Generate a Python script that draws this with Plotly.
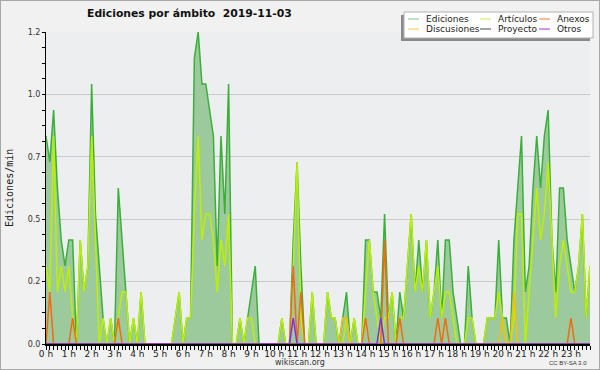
import plotly.graph_objects as go

# ---------------- data (10-minute slots, edits per minute) ----------------
slot_hours = [i / 6 for i in range(144)]          # 00:00 ... 23:50

ediciones = [
    0.8, 0.7, 0.9, 0.6, 0.4, 0.3, 0.4, 0.4, 0.0, 0.4, 0.2, 0.3,
    1.0, 0.5, 0.3, 0.1, 0.0, 0.1, 0.0, 0.6, 0.4, 0.2, 0.0, 0.1,
    0.0, 0.2, 0.0, 0.0, 0.0, 0.0, 0.0, 0.0, 0.0, 0.0, 0.1, 0.2,
    0.0, 0.1, 0.1, 1.1, 1.2, 1.0, 1.0, 0.9, 0.8, 0.3, 0.8, 0.5,
    1.0, 0.0, 0.0, 0.1, 0.0, 0.1, 0.2, 0.3, 0.0, 0.0, 0.0, 0.0,
    0.0, 0.0, 0.1, 0.0, 0.0, 0.4, 0.7, 0.3, 0.0, 0.0, 0.2, 0.0,
    0.0, 0.0, 0.2, 0.1, 0.1, 0.0, 0.1, 0.2, 0.0, 0.1, 0.0, 0.0,
    0.4, 0.4, 0.2, 0.2, 0.1, 0.5, 0.1, 0.2, 0.0, 0.2, 0.1, 0.3,
    0.5, 0.2, 0.4, 0.2, 0.4, 0.1, 0.2, 0.4, 0.1, 0.4, 0.4, 0.2,
    0.1, 0.0, 0.0, 0.3, 0.1, 0.0, 0.0, 0.0, 0.1, 0.1, 0.1, 0.4,
    0.1, 0.1, 0.0, 0.4, 0.6, 0.8, 0.2, 0.3, 0.6, 0.8, 0.6, 0.8,
    0.9, 0.4, 0.2, 0.6, 0.6, 0.4, 0.3, 0.2, 0.3, 0.5, 0.1, 0.3,
]

articulos = [
    0.3, 0.2, 0.8, 0.2, 0.3, 0.2, 0.3, 0.1, 0.0, 0.4, 0.2, 0.3,
    0.8, 0.4, 0.0, 0.1, 0.0, 0.1, 0.0, 0.1, 0.2, 0.2, 0.0, 0.1,
    0.0, 0.2, 0.0, 0.0, 0.0, 0.0, 0.0, 0.0, 0.0, 0.0, 0.1, 0.2,
    0.0, 0.1, 0.1, 0.5, 0.8, 0.4, 0.5, 0.5, 0.4, 0.2, 0.4, 0.3,
    0.5, 0.0, 0.0, 0.1, 0.0, 0.1, 0.1, 0.0, 0.0, 0.0, 0.0, 0.0,
    0.0, 0.0, 0.1, 0.0, 0.0, 0.3, 0.7, 0.1, 0.0, 0.0, 0.2, 0.0,
    0.0, 0.0, 0.2, 0.1, 0.1, 0.0, 0.0, 0.1, 0.0, 0.1, 0.0, 0.0,
    0.2, 0.4, 0.2, 0.1, 0.0, 0.1, 0.1, 0.2, 0.0, 0.1, 0.1, 0.3,
    0.5, 0.2, 0.3, 0.2, 0.4, 0.1, 0.2, 0.3, 0.1, 0.2, 0.2, 0.1,
    0.0, 0.0, 0.0, 0.1, 0.1, 0.0, 0.0, 0.0, 0.1, 0.1, 0.1, 0.2,
    0.1, 0.0, 0.0, 0.1, 0.5, 0.5, 0.0, 0.2, 0.4, 0.6, 0.4, 0.5,
    0.7, 0.4, 0.1, 0.3, 0.4, 0.3, 0.2, 0.2, 0.3, 0.5, 0.1, 0.3,
]

anexos = [
    0.0, 0.2, 0.0, 0.0, 0.0, 0.0, 0.0, 0.1, 0.0, 0.0, 0.0, 0.0,
    0.0, 0.0, 0.0, 0.0, 0.0, 0.0, 0.0, 0.1, 0.0, 0.0, 0.0, 0.0,
    0.0, 0.0, 0.0, 0.0, 0.0, 0.0, 0.0, 0.0, 0.0, 0.0, 0.0, 0.0,
    0.0, 0.0, 0.0, 0.0, 0.0, 0.0, 0.0, 0.0, 0.0, 0.0, 0.0, 0.0,
    0.0, 0.0, 0.0, 0.0, 0.0, 0.0, 0.0, 0.0, 0.0, 0.0, 0.0, 0.0,
    0.0, 0.0, 0.0, 0.0, 0.0, 0.3, 0.0, 0.2, 0.0, 0.0, 0.0, 0.0,
    0.0, 0.0, 0.0, 0.0, 0.0, 0.0, 0.0, 0.0, 0.0, 0.0, 0.0, 0.0,
    0.1, 0.0, 0.0, 0.0, 0.0, 0.4, 0.0, 0.0, 0.0, 0.1, 0.0, 0.0,
    0.0, 0.0, 0.0, 0.0, 0.0, 0.0, 0.0, 0.1, 0.0, 0.1, 0.0, 0.0,
    0.0, 0.0, 0.0, 0.0, 0.0, 0.0, 0.0, 0.0, 0.0, 0.0, 0.0, 0.0,
    0.0, 0.0, 0.0, 0.0, 0.0, 0.0, 0.0, 0.0, 0.0, 0.0, 0.0, 0.0,
    0.0, 0.0, 0.0, 0.0, 0.0, 0.0, 0.1, 0.0, 0.0, 0.0, 0.0, 0.0,
]

discusiones = [
    0.0, 0.0, 0.0, 0.0, 0.0, 0.0, 0.0, 0.0, 0.0, 0.0, 0.0, 0.0,
    0.0, 0.0, 0.0, 0.0, 0.0, 0.0, 0.0, 0.0, 0.0, 0.0, 0.0, 0.0,
    0.0, 0.0, 0.0, 0.0, 0.0, 0.0, 0.0, 0.0, 0.0, 0.0, 0.0, 0.0,
    0.0, 0.0, 0.0, 0.0, 0.0, 0.0, 0.0, 0.0, 0.0, 0.0, 0.0, 0.0,
    0.0, 0.0, 0.0, 0.0, 0.0, 0.0, 0.0, 0.0, 0.0, 0.0, 0.0, 0.0,
    0.0, 0.0, 0.0, 0.0, 0.0, 0.0, 0.0, 0.0, 0.0, 0.0, 0.0, 0.0,
    0.0, 0.0, 0.0, 0.0, 0.0, 0.0, 0.1, 0.1, 0.0, 0.0, 0.0, 0.0,
    0.0, 0.0, 0.0, 0.0, 0.0, 0.0, 0.0, 0.0, 0.0, 0.0, 0.0, 0.0,
    0.0, 0.0, 0.0, 0.0, 0.0, 0.0, 0.0, 0.0, 0.0, 0.0, 0.0, 0.0,
    0.0, 0.0, 0.0, 0.0, 0.0, 0.0, 0.0, 0.0, 0.0, 0.0, 0.0, 0.0,
    0.1, 0.0, 0.0, 0.2, 0.0, 0.0, 0.0, 0.0, 0.0, 0.0, 0.0, 0.0,
    0.0, 0.0, 0.0, 0.0, 0.0, 0.0, 0.0, 0.0, 0.0, 0.0, 0.0, 0.0,
]

proyecto = [0.0] * 144

otros = [
    0.0, 0.0, 0.0, 0.0, 0.0, 0.0, 0.0, 0.0, 0.0, 0.0, 0.0, 0.0,
    0.0, 0.0, 0.0, 0.0, 0.0, 0.0, 0.0, 0.0, 0.0, 0.0, 0.0, 0.0,
    0.0, 0.0, 0.0, 0.0, 0.0, 0.0, 0.0, 0.0, 0.0, 0.0, 0.0, 0.0,
    0.0, 0.0, 0.0, 0.0, 0.0, 0.0, 0.0, 0.0, 0.0, 0.0, 0.0, 0.0,
    0.0, 0.0, 0.0, 0.0, 0.0, 0.0, 0.0, 0.0, 0.0, 0.0, 0.0, 0.0,
    0.0, 0.0, 0.0, 0.0, 0.0, 0.1, 0.0, 0.0, 0.0, 0.0, 0.0, 0.0,
    0.0, 0.0, 0.0, 0.0, 0.0, 0.0, 0.0, 0.0, 0.0, 0.0, 0.0, 0.0,
    0.0, 0.0, 0.0, 0.0, 0.1, 0.0, 0.0, 0.0, 0.0, 0.0, 0.0, 0.0,
    0.0, 0.0, 0.0, 0.0, 0.0, 0.0, 0.0, 0.0, 0.0, 0.0, 0.0, 0.0,
    0.0, 0.0, 0.0, 0.0, 0.0, 0.0, 0.0, 0.0, 0.0, 0.0, 0.0, 0.0,
    0.0, 0.0, 0.0, 0.0, 0.0, 0.0, 0.0, 0.0, 0.0, 0.0, 0.0, 0.0,
    0.0, 0.0, 0.0, 0.0, 0.0, 0.0, 0.0, 0.0, 0.0, 0.0, 0.0, 0.0,
]

x_tickvals = list(range(24))
x_ticktext = [f"{h} h" for h in range(24)]
y_tickvals = [0, 0.24, 0.48, 0.72, 0.96, 1.2]
y_ticktext = ["0.0", "0.2", "0.5", "0.7", "1.0", "1.2"]

title_text = "Ediciones por ámbito\u00a0\u00a02019-11-03"
y_title = "Ediciones/min"
legend_rows = [["Ediciones", "Artículos", "Anexos"],
               ["Discusiones", "Proyecto", "Otros"]]
legend_colors = {"Ediciones": "#8fd08f", "Artículos": "#d2f06a", "Anexos": "#f28a60",
                 "Discusiones": "#ffd25a", "Proyecto": "#666666", "Otros": "#a058f0"}

# ---------------- layout geometry ----------------
W, H = 600, 370
L, R, T, B = 46, 10, 32, 26
PW, PH = W - L - R, H - T - B


def px(x):
    return (x - L) / PW


def py(y):
    return (H - B - y) / PH


FONT = "DejaVu Sans"

fig = go.Figure()

fig.add_trace(go.Scatter(x=slot_hours, y=ediciones, name="Ediciones", mode="lines",
                         line=dict(color="#3aaf3a", width=1.5), fill="tozeroy",
                         fillcolor="#9dca9d", showlegend=False))
fig.add_trace(go.Scatter(x=slot_hours, y=articulos, name="Artículos", mode="lines",
                         line=dict(color="#bdf000", width=1.5), showlegend=False))
fig.add_trace(go.Scatter(x=slot_hours, y=discusiones, name="Discusiones", mode="lines",
                         line=dict(color="#f5c000", width=1.5), showlegend=False))
fig.add_trace(go.Scatter(x=slot_hours, y=proyecto, name="Proyecto", mode="lines",
                         line=dict(color="#555555", width=1.5), showlegend=False))
fig.add_trace(go.Scatter(x=slot_hours, y=anexos, name="Anexos", mode="lines",
                         line=dict(color="#f26a10", width=1.5), showlegend=False))
fig.add_trace(go.Scatter(x=slot_hours, y=otros, name="Otros", mode="lines",
                         line=dict(color="#7f2ee6", width=1.5), showlegend=False))

shapes = []
annotations = []

# outer border
shapes.append(dict(type="rect", xref="paper", yref="paper",
                   x0=px(0), x1=px(W), y0=py(H), y1=py(0),
                   line=dict(color="#a8a8a8", width=2), layer="above"))

# legend (shadow, box, samples, labels)
shapes.append(dict(type="rect", xref="paper", yref="paper",
                   x0=px(401), x1=px(590), y0=py(41), y1=py(15),
                   fillcolor="#8a8a8a", line=dict(width=0), layer="above"))
shapes.append(dict(type="rect", xref="paper", yref="paper",
                   x0=px(404), x1=px(593), y0=py(38), y1=py(12),
                   fillcolor="#ffffff", line=dict(color="#b0b0b0", width=1), layer="above"))
col_line_x = [408, 480, 539]
col_text_x = [424, 496, 555]
row_y = [19, 29]
for r, row in enumerate(legend_rows):
    for c, name in enumerate(row):
        shapes.append(dict(type="line", xref="paper", yref="paper",
                           x0=px(col_line_x[c]), x1=px(col_line_x[c] + 11),
                           y0=py(row_y[r]), y1=py(row_y[r]),
                           line=dict(color=legend_colors[name], width=1.2), layer="above"))
        annotations.append(dict(text=name, xref="paper", yref="paper",
                                x=px(col_text_x[c]), y=py(row_y[r]),
                                xanchor="left", yanchor="middle", showarrow=False,
                                font=dict(family=FONT, size=9, color="#222222")))

# title
annotations.append(dict(text=f"<b>{title_text}</b>", xref="paper", yref="paper",
                        x=px(85), y=py(14), xanchor="left", yanchor="middle",
                        showarrow=False, font=dict(family=FONT, size=10.8, color="#111111")))
# y axis title
annotations.append(dict(text=y_title, xref="paper", yref="paper",
                        x=px(9), y=py(188), xanchor="center", yanchor="middle",
                        textangle=-90, showarrow=False,
                        font=dict(family="DejaVu Sans Mono", size=10, color="#222222")))
# footer
annotations.append(dict(text="wikiscan.org", xref="paper", yref="paper",
                        x=px(300), y=py(362), xanchor="center", yanchor="middle",
                        showarrow=False, font=dict(family=FONT, size=8, color="#333333")))
annotations.append(dict(text="CC BY-SA 3.0", xref="paper", yref="paper",
                        x=px(589), y=py(363), xanchor="right", yanchor="middle",
                        showarrow=False, font=dict(family="Liberation Sans", size=6, color="#333333")))

fig.update_layout(
    width=W, height=H, autosize=False,
    margin=dict(l=L, r=R, t=T, b=B, pad=0, autoexpand=False),
    paper_bgcolor="#f1f1f1",
    plot_bgcolor="#edeef0",
    showlegend=False,
    shapes=shapes,
    annotations=annotations,
    xaxis=dict(range=[0, slot_hours[-1]], tickmode="array", tickvals=x_tickvals,
               ticktext=x_ticktext, showgrid=False, zeroline=False, automargin=False,
               showline=True, linecolor="#000000", linewidth=2,
               ticks="outside", ticklen=4, tickwidth=1, tickcolor="#000000",
               ticklabelstandoff=-4,
               tickfont=dict(family=FONT, size=9, color="#222222"),
               minor=dict(dtick=1 / 6, ticks="outside", ticklen=4, tickwidth=1,
                          tickcolor="#000000", showgrid=False),
               fixedrange=True),
    yaxis=dict(range=[0, 1.2], tickmode="array", tickvals=y_tickvals,
               ticktext=y_ticktext, showgrid=True, gridcolor="#c9c9c9", gridwidth=1,
               zeroline=False, showline=True, linecolor="#000000", linewidth=1,
               automargin=False,
               ticks="outside", ticklen=3, tickwidth=1, tickcolor="#000000",
               tickfont=dict(family=FONT, size=8, color="#333333"),
               minor=dict(dtick=0.06, tick0=0, ticks="outside", ticklen=3, tickwidth=1,
                          tickcolor="#000000", showgrid=False),
               fixedrange=True),
)

fig.write_html(
    "out.html",
    config={"displayModeBar": False},
    post_script="document.body.style.margin='0';document.body.style.padding='0';"
                "document.body.style.overflow='hidden';",
)
